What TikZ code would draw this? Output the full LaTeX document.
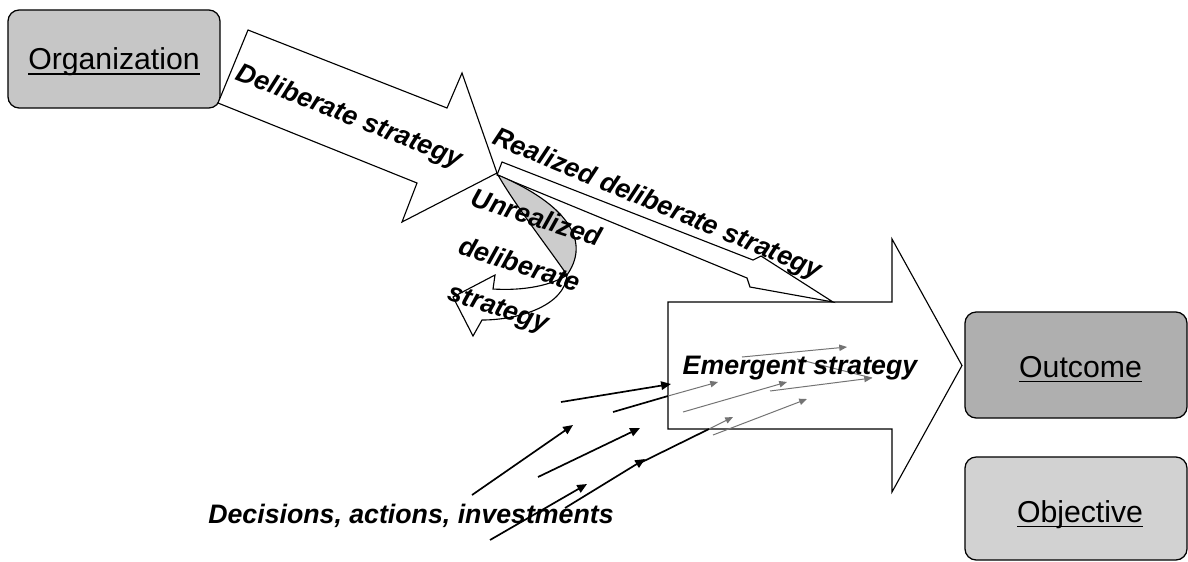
\documentclass[tikz,border=0pt]{standalone}
\usepackage{fontspec}
\setmainfont{Liberation Sans}
\usetikzlibrary{arrows.meta}
\newcommand\ulbl[1]{\setbox0\hbox{#1}\rlap{\rule[-3.8pt]{\wd0}{1.1pt}}\box0}
\begin{document}
\begin{tikzpicture}[x=0.025cm,y=-0.025cm,
  box/.style={draw=black, line width=0.9pt, rounded corners=8pt, inner sep=0pt},
  boxlbl/.style={font=\fontsize{21.5}{24}\selectfont, inner sep=0pt, anchor=base},
  fat/.style={draw=black, line width=0.8pt, fill=white, line join=miter},
  lbl/.style={font=\fontsize{19}{22}\selectfont\bfseries\itshape, inner sep=0pt},
  blk/.style={draw=black, line width=1.2pt, -{Triangle[length=7pt,width=6pt]}},
  blkline/.style={draw=black, line width=1.2pt},
  gry/.style={draw=black!55, line width=0.7pt, -{Triangle[length=5.5pt,width=4.5pt]}},
  gryline/.style={draw=black!55, line width=0.7pt}
]
\useasboundingbox (0,0) rectangle (1188,561);

% boxes
\node[box, fill=gray!45, minimum width=5.3cm, minimum height=2.45cm] (org) at (114,59) {};
\node[boxlbl] (orgt) at (114,69.5) {\ulbl{Organization}};
\node[box, fill=gray!63, minimum width=5.55cm, minimum height=2.65cm] (out) at (1076,365) {};
\node[boxlbl] (outt) at (1080.5,377) {\ulbl{Outcome}};
\node[box, fill=gray!35, minimum width=5.55cm, minimum height=2.575cm] (obj) at (1076,508.5) {};
\node[boxlbl] (objt) at (1080,522) {\ulbl{Objective}};

% emergent strategy arrow
\draw[fat] (668,302) -- (892,302) -- (892,239) -- (962,365.5) -- (892,492) -- (892,429) -- (668,429) -- cycle;

% realized deliberate strategy arrow
\draw[fat] (502,162) -- (753,260) -- (761,256) -- (833,302) -- (750,287) -- (747,278) -- (497,175) -- cycle;

% deliberate strategy arrow
\draw[fat] (248,30) -- (447,108) -- (462,73) -- (497,173) -- (402,222) -- (417,183) -- (218,103) -- cycle;

% unrealized: twisted ribbon
\draw[line width=0.8pt, fill=gray!40] (498,175) .. controls (555,199) and (595,235) .. (567,275)
   .. controls (550,250) and (515,205) .. (498,175) -- cycle;
\draw[fat] (567,275) .. controls (565,305) and (520,320) .. (482,320)
   -- (473,336) -- (453,297) -- (495,275) -- (493,289)
   .. controls (525,291) and (552,285) .. (567,275) -- cycle;

% small arrows: decisions, actions, investments
\coordinate (a1s) at (561,402); \coordinate (a1e) at (671,384);
\coordinate (a2s) at (613,412); \coordinate (a2m) at (668,396); \coordinate (a2e) at (718,382);
\coordinate (a3s) at (472,495); \coordinate (a3e) at (573,425);
\coordinate (a4s) at (538,477); \coordinate (a4e) at (640,428);
\coordinate (a5s) at (490,540); \coordinate (a5e) at (587,484);
\coordinate (a6s) at (565,508); \coordinate (a6e) at (645,459);
\coordinate (a7s) at (640,463); \coordinate (a7m) at (709,429); \coordinate (a7e) at (733,417);
\coordinate (g1s) at (742,357); \coordinate (g1e) at (847,347);
\coordinate (g3s) at (683,412); \coordinate (g3e) at (787,382);
\coordinate (g4s) at (770,391); \coordinate (g4t) at (797,359); \coordinate (g4e) at (872,378);
\coordinate (g5s) at (713,435); \coordinate (g5e) at (807,399);

\draw[blk] (a1s) -- (a1e);
\draw[blkline] (a2s) -- (a2m);
\draw[gry] (a2m) -- (a2e);
\draw[blk] (a3s) -- (a3e);
\draw[blk] (a4s) -- (a4e);
\draw[blk] (a5s) -- (a5e);
\draw[blk] (a6s) -- (a6e);
\draw[blkline] (a7s) -- (a7m);
\draw[gry] (a7m) -- (a7e);
\draw[gry] (g1s) -- (g1e);
\draw[gry] (g3s) -- (g3e);
\draw[gryline] (g4t) -- (g4e);
\draw[gry] (g4s) -- (g4e);
\draw[gry] (g5s) -- (g5e);

% labels
\node[lbl, rotate=-21.5] (tdel) at (349,117) {Deliberate strategy};
\node[lbl, rotate=-22.5] (treal) at (657,205) {Realized deliberate strategy};
\node[lbl, rotate=-18] (tun1) at (537,217) {Unrealized};
\node[lbl, rotate=-18] (tun2) at (520,264) {deliberate};
\node[lbl, rotate=-18] (tun3) at (498,310) {strategy};
\node[lbl] (temg) at (800,368) {Emergent strategy};
\node[lbl] (tdec) at (411,516) {Decisions, actions, investments};
\end{tikzpicture}
\end{document}
